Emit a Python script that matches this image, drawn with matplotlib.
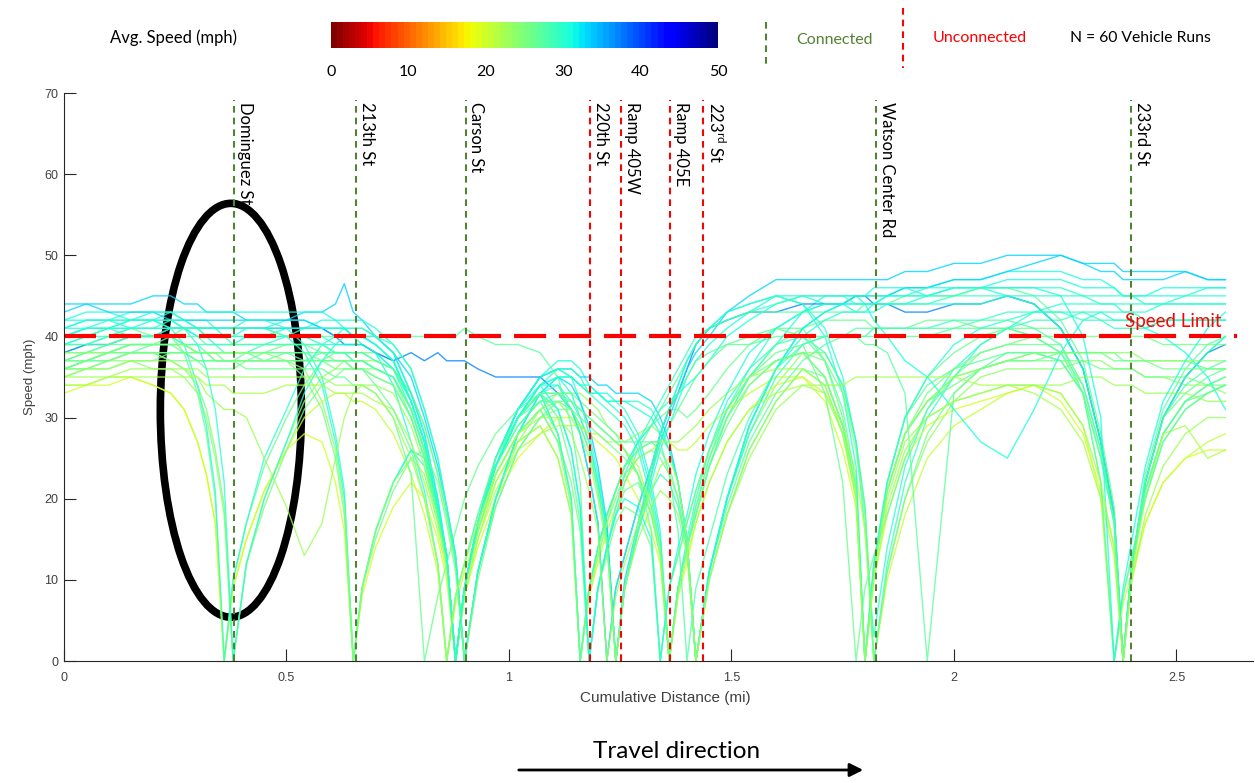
import numpy as np
import matplotlib
matplotlib.use('Agg')
import matplotlib.pyplot as plt
from matplotlib.patches import Ellipse
from matplotlib.lines import Line2D
from matplotlib.colors import Normalize
from matplotlib.cm import ScalarMappable

plt.rcParams['font.family'] = ['Liberation Sans', 'DejaVu Sans']
plt.rcParams['mathtext.fontset'] = 'custom'
plt.rcParams['mathtext.rm'] = 'Lato'

# cumulative distance grid (mi)
dist = [0.00, 0.05, 0.10, 0.15, 0.20, 0.24, 0.27, 0.30, 0.32, 0.34,
        0.36, 0.38, 0.41, 0.45, 0.50, 0.54, 0.58, 0.61, 0.63, 0.65,
        0.67, 0.70, 0.74, 0.78, 0.81, 0.84, 0.86, 0.88, 0.90, 0.93,
        0.97, 1.02, 1.07, 1.11, 1.14, 1.16, 1.18, 1.20, 1.22, 1.24,
        1.26, 1.29, 1.32, 1.34, 1.36, 1.38, 1.40, 1.42, 1.45, 1.49,
        1.54, 1.60, 1.66, 1.71, 1.75, 1.78, 1.80, 1.82, 1.85, 1.89,
        1.94, 2.00, 2.06, 2.12, 2.18, 2.24, 2.29, 2.33, 2.36, 2.38,
        2.40, 2.43, 2.47, 2.52, 2.57, 2.61]

# speed (mph) of each vehicle run on the grid above
run_01 = [38, 39, 40, 41, 40, 40, 38, 33, 28, 20, 0, 10, 17, 24, 30, 34, 37, 38, 38, 38, 38, 38, 37, 32, 27, 19, 13, 0, 9, 17, 24, 30, 33, 28, 20, 0, 9, 14, 18, 21,
          24, 27, 29, 30, 31, 31, 30, 31, 33, 36, 39, 41, 41, 37, 30, 21, 0, 12, 22, 30, 35, 38, 40, 41, 41, 41, 36, 27, 18, 0, 12, 22, 30, 33, 35, 36]
run_02 = [42, 43, 43, 42, 42, 43, 42, 41, 41, 41, 40, 40, 41, 41, 42, 42, 41, 40, 40, 40, 40, 39, 37, 32, 27, 19, 13, 0, 9, 17, 24, 30, 34, 35, 33, 30, 27, 22, 16, 0,
          9, 16, 22, 26, 29, 32, 35, 37, 39, 41, 43, 45, 45, 44, 44, 43, 43, 43, 44, 44, 45, 45, 46, 45, 44, 41, 36, 27, 18, 0, 12, 22, 30, 35, 38, 40]
run_03 = [40, 41, 41, 42, 42, 41, 41, 40, 40, 39, 39, 39, 40, 40, 41, 41, 42, 42, 41, 40, 39, 38, 34, 27, 21, 12, 0, 8, 12, 18, 25, 31, 35, 37, 37, 36, 34, 33, 32, 31,
          30, 27, 21, 15, 0, 9, 14, 18, 24, 30, 35, 39, 43, 45, 45, 45, 44, 44, 45, 46, 46, 47, 47, 48, 48, 48, 47, 47, 46, 45, 45, 45, 46, 46, 46, 46]
run_04 = [36, 36, 37, 37, 36, 36, 35, 33, 30, 25, 18, 0, 12, 20, 27, 32, 35, 36, 37, 37, 37, 37, 36, 33, 29, 23, 18, 12, 0, 11, 20, 27, 31, 33, 33, 33, 32, 31, 29, 28,
          27, 28, 29, 28, 26, 22, 15, 0, 11, 20, 28, 34, 38, 38, 34, 27, 19, 0, 11, 20, 27, 32, 35, 36, 36, 36, 37, 37, 36, 36, 36, 35, 35, 34, 34, 33]
run_05 = [37, 38, 38, 39, 39, 40, 39, 38, 38, 38, 37, 37, 38, 38, 39, 39, 38, 37, 37, 36, 36, 35, 34, 30, 25, 18, 12, 0, 9, 17, 24, 30, 33, 30, 24, 17, 0, 9, 14, 18,
          21, 22, 18, 13, 0, 9, 14, 18, 24, 30, 35, 39, 41, 42, 42, 42, 42, 41, 41, 41, 42, 42, 41, 41, 40, 38, 34, 26, 17, 0, 11, 21, 28, 32, 34, 35]
run_06 = [41, 42, 42, 43, 43, 43, 42, 42, 42, 41, 41, 41, 41, 41, 40, 38, 34, 27, 20, 0, 9, 16, 22, 26, 24, 18, 12, 0, 9, 17, 24, 31, 35, 36, 35, 32, 28, 23, 16, 0,
          9, 16, 23, 28, 31, 34, 37, 39, 41, 43, 44, 45, 44, 41, 35, 27, 16, 3, 14, 24, 31, 36, 39, 41, 43, 44, 44, 44, 44, 43, 43, 43, 44, 44, 44, 44]
run_07 = [43, 44, 44, 44, 45, 45, 44, 44, 43, 43, 43, 43, 42, 42, 42, 43, 43, 44, 46.5, 43, 42, 40, 38, 33, 28, 20, 13, 0, 9, 17, 25, 31, 35, 36, 36, 35, 35, 34, 34, 33,
          33, 33, 32, 30, 27, 22, 15, 0, 11, 20, 29, 36, 41, 43, 44, 45, 45, 45, 45, 46, 46, 47, 47, 48, 49, 50, 49, 48, 48, 47, 47, 47, 47, 48, 47, 47]
run_08 = [34, 34, 35, 35, 34, 33, 31, 27, 23, 17, 0, 9, 15, 21, 26, 30, 32, 33, 33, 32, 32, 31, 28, 23, 18, 11, 0, 7, 11, 16, 22, 27, 29, 25, 18, 0, 8, 12, 16, 19,
          22, 25, 26, 27, 27, 26, 26, 27, 29, 31, 33, 35, 35, 33, 29, 23, 16, 0, 10, 18, 25, 29, 31, 33, 34, 33, 29, 20, 0, 7, 11, 17, 22, 25, 27, 28]
run_09 = [39, 40, 41, 41, 41, 42, 41, 41, 40, 40, 40, 39, 39, 39, 40, 40, 40, 39, 39, 39, 39, 38, 36, 31, 26, 18, 12, 0, 9, 17, 24, 30, 34, 36, 36, 35, 33, 32, 31, 30,
          29, 26, 20, 14, 0, 9, 14, 19, 25, 31, 36, 39, 40, 38, 34, 27, 19, 0, 12, 22, 30, 35, 39, 41, 42, 42, 43, 42, 42, 42, 42, 41, 42, 42, 42, 42]
run_10 = [38, 39, 39, 40, 40, 41, 41, 41, 41, 41, 41, 41, 41, 41, 41, 41, 41, 40, 39, 39, 39, 38, 37, 38, 37, 38, 37, 37, 37, 36, 35, 35, 35, 33, 31, 28, 23, 17, 0, 9,
          13, 19, 24, 28, 31, 33, 36, 39, 41, 42, 43, 43, 44, 44, 44, 45, 45, 44, 44, 43, 43, 44, 44, 45, 44, 41, 36, 27, 18, 0, 12, 22, 30, 35, 38, 39]
run_11 = [40, 40, 41, 40, 40, 40, 39, 39, 39, 39, 38, 38, 38, 39, 39, 39, 39, 38, 38, 37, 37, 36, 35, 31, 26, 18, 12, 0, 9, 17, 24, 30, 33, 34, 32, 30, 27, 22, 16, 0,
          9, 16, 21, 23, 22, 19, 14, 0, 11, 20, 28, 35, 39, 40, 40, 40, 40, 41, 41, 41, 41, 42, 42, 43, 43, 43, 42, 42, 41, 41, 41, 41, 42, 42, 42, 42]
run_12 = [33, 34, 34, 35, 34, 33, 31, 27, 23, 17, 0, 9, 15, 21, 26, 28, 27, 22, 16, 0, 8, 14, 19, 22, 20, 15, 10, 0, 8, 14, 20, 25, 28, 30, 30, 29, 28, 27, 26, 25,
          23, 20, 16, 12, 0, 8, 12, 17, 22, 27, 31, 34, 35, 32, 26, 19, 0, 10, 18, 25, 29, 31, 32, 33, 34, 32, 28, 21, 14, 0, 10, 17, 22, 25, 26, 26]
run_13 = [42, 42, 42, 41, 41, 41, 41, 40, 40, 40, 40, 40, 40, 40, 40, 40, 39, 39, 39, 39, 39, 38, 36, 32, 27, 19, 13, 0, 9, 17, 24, 30, 33, 28, 20, 0, 9, 14, 18, 21,
          24, 27, 29, 31, 32, 33, 34, 35, 37, 40, 42, 44, 45, 45, 45, 45, 45, 46, 46, 46, 45, 46, 46, 47, 47, 47, 46, 46, 46, 45, 45, 45, 45, 45, 46, 46]
run_14 = [36, 37, 37, 38, 38, 38, 38, 37, 37, 37, 37, 37, 37, 37, 38, 38, 38, 38, 38, 38, 38, 37, 36, 33, 29, 23, 18, 12, 0, 11, 19, 26, 30, 32, 32, 31, 30, 29, 28, 27,
          27, 27, 27, 26, 24, 20, 14, 0, 11, 19, 27, 33, 37, 39, 40, 40, 40, 40, 40, 40, 40, 41, 41, 41, 40, 38, 33, 22, 0, 8, 13, 20, 27, 31, 33, 34]
run_15 = [35, 36, 36, 37, 37, 38, 38, 37, 37, 37, 37, 37, 36, 36, 36, 36, 36, 35, 35, 34, 34, 33, 30, 23, 0, 8, 12, 16, 20, 24, 28, 31, 33, 33, 33, 32, 31, 30, 29, 28,
          26, 23, 18, 13, 0, 9, 14, 18, 24, 29, 34, 37, 38, 35, 29, 21, 0, 11, 21, 28, 32, 34, 36, 37, 37, 38, 38, 38, 38, 37, 37, 37, 37, 37, 36, 36]
run_16 = [44, 44, 43, 43, 43, 42, 42, 42, 42, 42, 42, 42, 42, 42, 42, 42, 41, 41, 41, 40, 40, 40, 38, 35, 30, 24, 19, 13, 0, 11, 20, 28, 33, 35, 34, 32, 29, 24, 17, 0,
          10, 17, 23, 27, 30, 33, 36, 38, 40, 43, 45, 47, 47, 47, 47, 47, 47, 47, 47, 48, 48, 49, 49, 50, 50, 50, 49, 49, 49, 48, 48, 48, 48, 48, 47, 47]
run_17 = [36, 36, 37, 38, 38, 37, 36, 34, 31, 26, 19, 0, 12, 19, 26, 31, 34, 35, 36, 36, 36, 36, 35, 31, 26, 19, 13, 0, 9, 16, 23, 28, 31, 27, 19, 0, 9, 13, 17, 20,
          23, 25, 26, 25, 23, 20, 14, 0, 10, 18, 26, 32, 36, 35, 29, 21, 0, 11, 21, 28, 32, 35, 36, 37, 37, 37, 37, 36, 36, 36, 36, 35, 35, 35, 34, 34]
run_18 = [39, 40, 40, 41, 41, 41, 41, 41, 41, 41, 41, 41, 42, 42, 41, 39, 35, 28, 21, 0, 9, 16, 22, 26, 25, 19, 13, 0, 9, 17, 25, 31, 34, 35, 35, 34, 33, 33, 32, 32,
          31, 28, 22, 16, 0, 9, 15, 20, 26, 32, 36, 41, 43, 44, 44, 45, 45, 45, 45, 45, 46, 46, 46, 46, 46, 46, 45, 45, 45, 45, 45, 44, 44, 44, 44, 44]
run_19 = [37, 37, 38, 38, 39, 39, 39, 38, 38, 38, 38, 38, 38, 37, 37, 37, 38, 38, 38, 37, 37, 36, 35, 31, 26, 18, 12, 0, 9, 17, 24, 29, 32, 32, 31, 29, 26, 21, 15, 0,
          9, 16, 23, 27, 29, 31, 33, 35, 37, 39, 40, 41, 40, 37, 31, 22, 0, 12, 22, 30, 34, 36, 37, 38, 38, 37, 33, 25, 17, 0, 12, 21, 28, 32, 33, 34]
run_20 = [37, 38, 39, 40, 40, 40, 41, 41, 41, 41, 41, 41, 41, 41, 40, 40, 40, 40, 40, 40, 40, 40, 40, 40, 40, 40, 40, 40, 41, 40, 39, 39, 38, 35, 29, 22, 0, 9, 14, 18,
          22, 26, 29, 31, 33, 35, 37, 39, 41, 42, 43, 43, 43, 43, 43, 43, 44, 44, 44, 45, 45, 45, 46, 46, 45, 42, 37, 28, 19, 0, 12, 23, 31, 36, 39, 40]
run_21 = [40, 41, 41, 42, 42, 41, 39, 34, 29, 21, 0, 10, 17, 25, 31, 36, 39, 40, 41, 41, 41, 40, 38, 33, 28, 20, 13, 0, 9, 17, 25, 31, 35, 36, 35, 34, 33, 33, 32, 32,
          32, 32, 31, 29, 26, 22, 15, 0, 11, 20, 29, 36, 40, 42, 43, 43, 43, 44, 44, 44, 44, 44, 44, 45, 45, 45, 45, 44, 44, 44, 44, 44, 44, 45, 45, 45]
run_22 = [36, 37, 38, 38, 38, 37, 37, 37, 36, 36, 36, 36, 37, 37, 37, 37, 37, 36, 36, 36, 36, 35, 34, 30, 25, 18, 12, 0, 9, 16, 23, 28, 31, 27, 22, 16, 0, 9, 13, 17,
          19, 18, 14, 0, 9, 13, 17, 21, 26, 31, 35, 37, 38, 35, 29, 21, 0, 11, 21, 28, 33, 36, 38, 39, 40, 40, 40, 40, 40, 40, 40, 40, 39, 39, 39, 39]
run_23 = [38, 38, 39, 39, 39, 39, 39, 39, 38, 38, 38, 38, 38, 38, 38, 37, 37, 37, 37, 37, 37, 36, 35, 30, 25, 18, 12, 0, 9, 17, 24, 29, 32, 33, 31, 29, 26, 21, 15, 0,
          9, 17, 24, 28, 31, 33, 35, 37, 38, 39, 39, 40, 40, 40, 40, 40, 39, 39, 38, 33, 0, 33, 36, 38, 38, 37, 33, 25, 17, 0, 12, 21, 28, 32, 34, 35]
run_24 = [41, 42, 42, 42, 43, 43, 43, 43, 43, 43, 43, 43, 43, 43, 43, 43, 43, 42, 42, 42, 42, 41, 39, 36, 31, 25, 19, 13, 0, 11, 20, 28, 33, 35, 35, 34, 34, 33, 33, 32,
          32, 31, 30, 28, 26, 22, 15, 0, 11, 20, 29, 36, 41, 43, 44, 44, 44, 42, 40, 37, 35, 31, 27, 25, 31, 38, 42, 43, 42, 42, 42, 41, 40, 38, 35, 31]
run_25 = [35, 36, 36, 37, 37, 37, 36, 35, 33, 32, 31, 31, 30, 25, 19, 13, 17, 25, 30, 33, 34, 34, 33, 29, 24, 17, 12, 0, 8, 15, 22, 27, 29, 25, 18, 0, 8, 13, 17, 21,
          24, 26, 27, 27, 27, 27, 28, 29, 31, 33, 35, 36, 36, 34, 28, 21, 0, 11, 20, 27, 30, 32, 33, 34, 34, 34, 35, 35, 34, 34, 34, 33, 33, 33, 32, 32]
run_26 = [34, 34, 35, 35, 35, 35, 35, 35, 34, 34, 34, 33, 33, 33, 34, 34, 34, 33, 33, 33, 33, 32, 31, 27, 22, 16, 11, 0, 8, 15, 21, 26, 28, 29, 29, 29, 28, 28, 27, 27,
          26, 24, 19, 13, 0, 8, 13, 17, 22, 27, 31, 33, 34, 34, 34, 35, 35, 35, 35, 35, 35, 35, 34, 34, 33, 31, 27, 20, 13, 0, 11, 20, 28, 29, 25, 26]
run_27 = [38, 38, 38, 39, 39, 39, 39, 38, 38, 38, 38, 38, 38, 38, 37, 36, 32, 26, 19, 0, 9, 16, 22, 25, 23, 17, 12, 0, 9, 16, 23, 28, 31, 32, 30, 28, 25, 20, 14, 0,
          9, 15, 19, 21, 20, 18, 13, 0, 10, 18, 26, 32, 36, 34, 28, 20, 0, 11, 21, 28, 32, 35, 36, 37, 38, 38, 38, 38, 38, 38, 38, 37, 37, 37, 37, 37]
run_28 = [39, 39, 40, 40, 40, 41, 41, 41, 40, 40, 40, 40, 40, 40, 40, 41, 41, 41, 41, 41, 41, 40, 39, 36, 31, 25, 19, 13, 0, 11, 20, 28, 33, 31, 26, 19, 0, 9, 14, 19,
          23, 27, 30, 32, 34, 36, 38, 40, 41, 42, 43, 44, 45, 45, 45, 44, 44, 44, 44, 44, 44, 45, 45, 45, 44, 41, 36, 27, 18, 0, 12, 22, 30, 35, 38, 40]
run_29 = [36, 37, 38, 39, 39, 39, 38, 38, 38, 37, 37, 37, 37, 38, 38, 38, 37, 37, 37, 36, 36, 34, 31, 26, 20, 12, 0, 8, 12, 18, 25, 30, 33, 33, 32, 31, 30, 29, 28, 27,
          26, 23, 16, 0, 9, 13, 17, 21, 26, 31, 35, 38, 39, 33, 22, 0, 9, 13, 18, 25, 31, 35, 38, 39, 39, 39, 33, 22, 0, 8, 13, 20, 27, 31, 33, 34]
run_30 = [41, 41, 42, 42, 42, 42, 41, 39, 36, 31, 22, 0, 12, 20, 27, 33, 37, 39, 40, 40, 40, 39, 37, 32, 27, 19, 13, 0, 9, 17, 24, 30, 34, 34, 31, 28, 23, 17, 0, 9,
          13, 19, 24, 28, 31, 34, 37, 39, 41, 43, 44, 45, 44, 40, 33, 24, 0, 12, 22, 30, 35, 39, 41, 42, 43, 43, 43, 43, 43, 43, 43, 42, 42, 42, 42, 42]
run_31 = [39, 39, 39, 40, 40, 40, 40, 40, 39, 39, 39, 39, 39, 39, 39, 39, 39, 38, 38, 38, 38, 37, 36, 32, 27, 19, 13, 0, 9, 17, 24, 30, 32, 28, 20, 0, 9, 14, 18, 21,
          24, 26, 27, 27, 23, 16, 0, 9, 15, 23, 30, 36, 39, 40, 40, 41, 41, 41, 41, 41, 41, 41, 42, 42, 41, 39, 34, 26, 17, 0, 12, 22, 30, 34, 36, 37]
run_32 = [37, 37, 37, 38, 38, 38, 38, 38, 38, 37, 37, 37, 37, 37, 37, 35, 31, 25, 18, 0, 9, 15, 21, 25, 26, 22, 17, 11, 0, 10, 19, 26, 30, 31, 31, 30, 29, 28, 27, 26,
          25, 23, 19, 14, 0, 9, 14, 19, 25, 30, 34, 37, 38, 37, 33, 26, 18, 0, 11, 20, 28, 33, 36, 37, 38, 38, 38, 38, 37, 37, 37, 37, 36, 36, 36, 36]
run_33 = [40, 41, 41, 41, 42, 42, 42, 41, 41, 41, 41, 41, 41, 41, 41, 41, 41, 41, 41, 40, 40, 39, 37, 32, 27, 19, 13, 0, 9, 17, 24, 30, 34, 31, 26, 19, 0, 9, 14, 18,
          20, 19, 15, 0, 9, 14, 18, 23, 28, 33, 38, 41, 43, 44, 44, 44, 44, 44, 45, 45, 45, 46, 46, 46, 46, 45, 40, 30, 0, 9, 15, 24, 32, 37, 41, 43]
run_34 = [35, 35, 35, 36, 36, 36, 36, 36, 35, 35, 35, 35, 35, 35, 35, 35, 35, 34, 34, 34, 34, 33, 30, 25, 20, 12, 0, 8, 12, 17, 23, 28, 30, 30, 28, 25, 21, 16, 0, 8,
          12, 17, 21, 24, 25, 22, 15, 0, 10, 18, 25, 31, 34, 33, 28, 20, 0, 10, 19, 26, 30, 32, 33, 34, 34, 33, 29, 22, 14, 0, 10, 18, 24, 28, 30, 30]

runs = [run_01, run_02, run_03, run_04, run_05, run_06, run_07, run_08, run_09, run_10,
        run_11, run_12, run_13, run_14, run_15, run_16, run_17, run_18, run_19, run_20,
        run_21, run_22, run_23, run_24, run_25, run_26, run_27, run_28, run_29, run_30,
        run_31, run_32, run_33, run_34]
# average speed of each run (mph), sets the line colour
avg_speed = [26, 31, 31, 24, 26, 30, 33, 21, 29, 37, 29, 20, 31, 27, 26, 33, 25, 30, 27, 27,
             30, 25, 27, 31, 23, 22, 24, 29, 26, 30, 28, 25, 31, 23]

streets = ['Dominguez St', '213th St', 'Carson St', '220th St', 'Ramp 405W', 'Ramp 405E',
           '223$^{\\mathrm{rd}}$ St', 'Watson Center Rd', '233rd St']
street_pos = [0.382, 0.656, 0.903, 1.182, 1.252, 1.362, 1.436, 1.825, 2.398]
connected = [True, True, True, False, False, False, False, True, True]
speed_limit = 40

W, H = 1255, 783
green = '#548235'
cmap = plt.get_cmap('jet_r', 64)
norm = Normalize(0, 50)

fig = plt.figure(figsize=(W / 100, H / 100), dpi=100)
ax = fig.add_axes([64 / W, 1 - 661 / H, 1189 / W, 568 / H])

for r, a in zip(runs, avg_speed):
    ax.plot(dist, r, color=cmap(norm(a)), lw=1.0, alpha=0.8)

for name, p, c in zip(streets, street_pos, connected):
    col = green if c else 'red'
    ax.plot([p, p], [0, 69.1], color=col, lw=1.5, ls=(0, (3.2, 2.4)))
    ax.text(p + 0.006, 68.9, name, rotation=-90, ha='left', va='top',
            fontsize=12, family='Lato', color='black')

ax.plot([0, 2.636], [speed_limit, speed_limit], color='red', lw=3, ls=(0, (7.7, 3.1)))
ax.text(2.384, 41.9, 'Speed Limit', color='red', fontsize=13.5, family='Lato',
        ha='left', va='center')

ax.add_patch(Ellipse((0.375, 30.9), 0.317, 51, fill=False, ec='black', lw=5.5))

ax.set_xlim(0, 2.672)
ax.set_ylim(0, 70)
ax.set_xticks([0, 0.5, 1, 1.5, 2, 2.5])
ax.set_xticklabels(['0', '0.5', '1', '1.5', '2', '2.5'])
ax.set_yticks(range(0, 71, 10))
ax.spines['top'].set_visible(False)
ax.spines['right'].set_visible(False)
for s in ['left', 'bottom']:
    ax.spines[s].set_color('#262626')
ax.tick_params(direction='in', length=8.5, width=0.8, colors='#262626',
               labelcolor='#404040', labelsize=9)
ax.tick_params(axis='x', pad=8)
ax.tick_params(axis='y', pad=4)

fig.text(665 / W, 1 - 698 / H, 'Cumulative Distance (mi)', ha='center', va='center',
         fontsize=11, color='#404040')
fig.text(30 / W, 1 - 377 / H, 'Speed (mph)', ha='center', va='center', rotation=90,
         fontsize=9.5, color='#404040')

# colour bar legend at the top
fig.text(173 / W, 1 - 38 / H, 'Avg. Speed (mph)', ha='center', va='center',
         fontsize=12, family='Lato')
cax = fig.add_axes([331 / W, 1 - 48 / H, 387 / W, 26 / H])
cb = fig.colorbar(ScalarMappable(norm=norm, cmap=cmap), cax=cax, orientation='horizontal')
cb.outline.set_visible(False)
cb.set_ticks([0, 10, 20, 30, 40, 50])
cax.tick_params(length=0, labelsize=11.5, pad=12)
for t in cax.get_xticklabels():
    t.set_family('Lato')

fig.add_artist(Line2D([766 / W, 766 / W], [1 - 22 / H, 1 - 68 / H], color=green,
                      lw=1.5, ls=(0, (3.2, 2.4))))
fig.add_artist(Line2D([903 / W, 903 / W], [1 - 8 / H, 1 - 68 / H], color='red',
                      lw=1.5, ls=(0, (3.2, 2.4))))
fig.text(834 / W, 1 - 40 / H, 'Connected', ha='center', va='center', fontsize=11.5,
         family='Lato', color=green)
fig.text(980 / W, 1 - 38 / H, 'Unconnected', ha='center', va='center', fontsize=11.5,
         family='Lato', color='red')
fig.text(1140 / W, 1 - 38 / H, 'N = 60 Vehicle Runs', ha='center', va='center',
         fontsize=11.3, family='Lato', color='black')

fig.text(677 / W, 1 - 751 / H, 'Travel direction', ha='center', va='center',
         fontsize=17.5, family='Lato')
ax.annotate('', xy=(866 / W, 1 - 770 / H), xytext=(516 / W, 1 - 770 / H),
            xycoords='figure fraction', textcoords='figure fraction',
            arrowprops=dict(arrowstyle='-|>', lw=2, color='black', mutation_scale=20),
            annotation_clip=False)

fig.savefig('out.png', dpi=100, facecolor='white')
